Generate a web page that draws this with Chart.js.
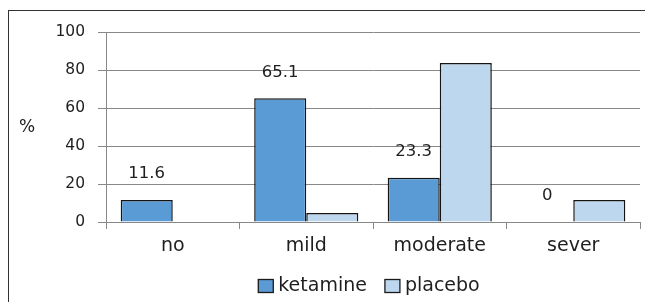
<!DOCTYPE html>
<html lang="en">
<head>
    <meta charset="UTF-8">
    <title>Ketamine vs placebo</title>
    <script src="https://cdn.jsdelivr.net/npm/chart.js"></script>
    <style>
        body {
            margin: 0;
            background: white;
        }
        .wrap {
            position: relative;
            width: 645px;
            height: 302px;
            overflow: hidden;
        }
        .frame {
            position: absolute;
            left: 8px;
            top: 10px;
            width: 700px;
            height: 400px;
            border: 1px solid #333;
        }
        canvas {
            position: absolute;
            left: 0;
            top: 0;
        }
    </style>
</head>
<body>
    <div class="wrap">
        <div class="frame"></div>
        <canvas id="chart" width="645" height="302"></canvas>
    </div>

    <script>
        // values
        const categories = ['no', 'mild', 'moderate', 'sever'];
        const ketamine = [11.6, 65.1, 23.3, 0];
        const placebo = [0, 4.7, 83.7, 11.6];
        const yTicks = [0, 20, 40, 60, 80, 100];

        const family = 'DejaVu Sans';
        const textColor = '#1e1e1e';

        // numbers above the ketamine bars, the "%" caption and the legend
        const extras = {
            id: 'extras',
            afterDatasetsDraw(chart) {
                const ctx = chart.ctx;
                const meta = chart.getDatasetMeta(0);
                ctx.save();
                ctx.fillStyle = textColor;
                ctx.textAlign = 'center';
                ctx.textBaseline = 'middle';
                ctx.font = '16.5px ' + family;
                meta.data.forEach((bar, i) => {
                    ctx.fillText(String(ketamine[i]), bar.x, bar.y - 26);
                });
                ctx.font = '17px ' + family;
                ctx.fillText('%', 27, 128);

                // legend, centred under the plot area
                ctx.font = '19px ' + family;
                const boxW = 15, boxH = 13, gapText = 5, gapItem = 18;
                const items = chart.data.datasets.map(ds => ({
                    text: ds.label,
                    fill: ds.backgroundColor,
                    w: boxW + gapText + ctx.measureText(ds.label).width
                }));
                const total = items.reduce((s, it) => s + it.w, 0) + gapItem * (items.length - 1);
                const area = chart.chartArea;
                let x = (area.left + area.right) / 2 - total / 2 - 4;
                const cy = 286;
                ctx.textAlign = 'left';
                items.forEach(it => {
                    ctx.fillStyle = it.fill;
                    ctx.fillRect(x, cy - boxH / 2, boxW, boxH);
                    ctx.strokeStyle = '#1a1a1a';
                    ctx.lineWidth = 1.3;
                    ctx.strokeRect(x, cy - boxH / 2, boxW, boxH);
                    ctx.fillStyle = textColor;
                    ctx.fillText(it.text, x + boxW + gapText, cy);
                    x += it.w + gapItem;
                });
                ctx.restore();
            }
        };

        const ctx = document.getElementById('chart').getContext('2d');
        new Chart(ctx, {
            type: 'bar',
            data: {
                labels: categories,
                datasets: [{
                    label: 'ketamine',
                    data: ketamine,
                    backgroundColor: '#5B9BD5',
                    borderColor: '#141414',
                    borderWidth: 1.5
                }, {
                    label: 'placebo',
                    data: placebo,
                    backgroundColor: '#BDD7EE',
                    borderColor: '#141414',
                    borderWidth: 1.5
                }]
            },
            options: {
                responsive: false,
                animation: false,
                layout: { padding: { top: 32, right: 5, left: 0, bottom: 40 } },
                datasets: {
                    bar: { categoryPercentage: 0.78, barPercentage: 1.0 }
                },
                plugins: {
                    legend: { display: false },
                    tooltip: { enabled: false }
                },
                scales: {
                    x: {
                        grid: {
                            display: true,
                            drawOnChartArea: false,
                            offset: true,
                            tickLength: 7,
                            color: '#888'
                        },
                        border: { color: '#888' },
                        ticks: { font: { family: family, size: 19 }, color: textColor, padding: 6 },
                        afterFit(scale) { scale.height = 40; }
                    },
                    y: {
                        min: 0,
                        max: 100,
                        afterBuildTicks(scale) {
                            scale.ticks = yTicks.map(v => ({ value: v }));
                        },
                        grid: { color: '#888', tickLength: 8 },
                        border: { color: '#888' },
                        ticks: { font: { family: family, size: 15.5 }, color: textColor, padding: 13 },
                        afterFit(scale) { scale.width = 106; }
                    }
                }
            },
            plugins: [extras]
        });
    </script>
</body>
</html>
